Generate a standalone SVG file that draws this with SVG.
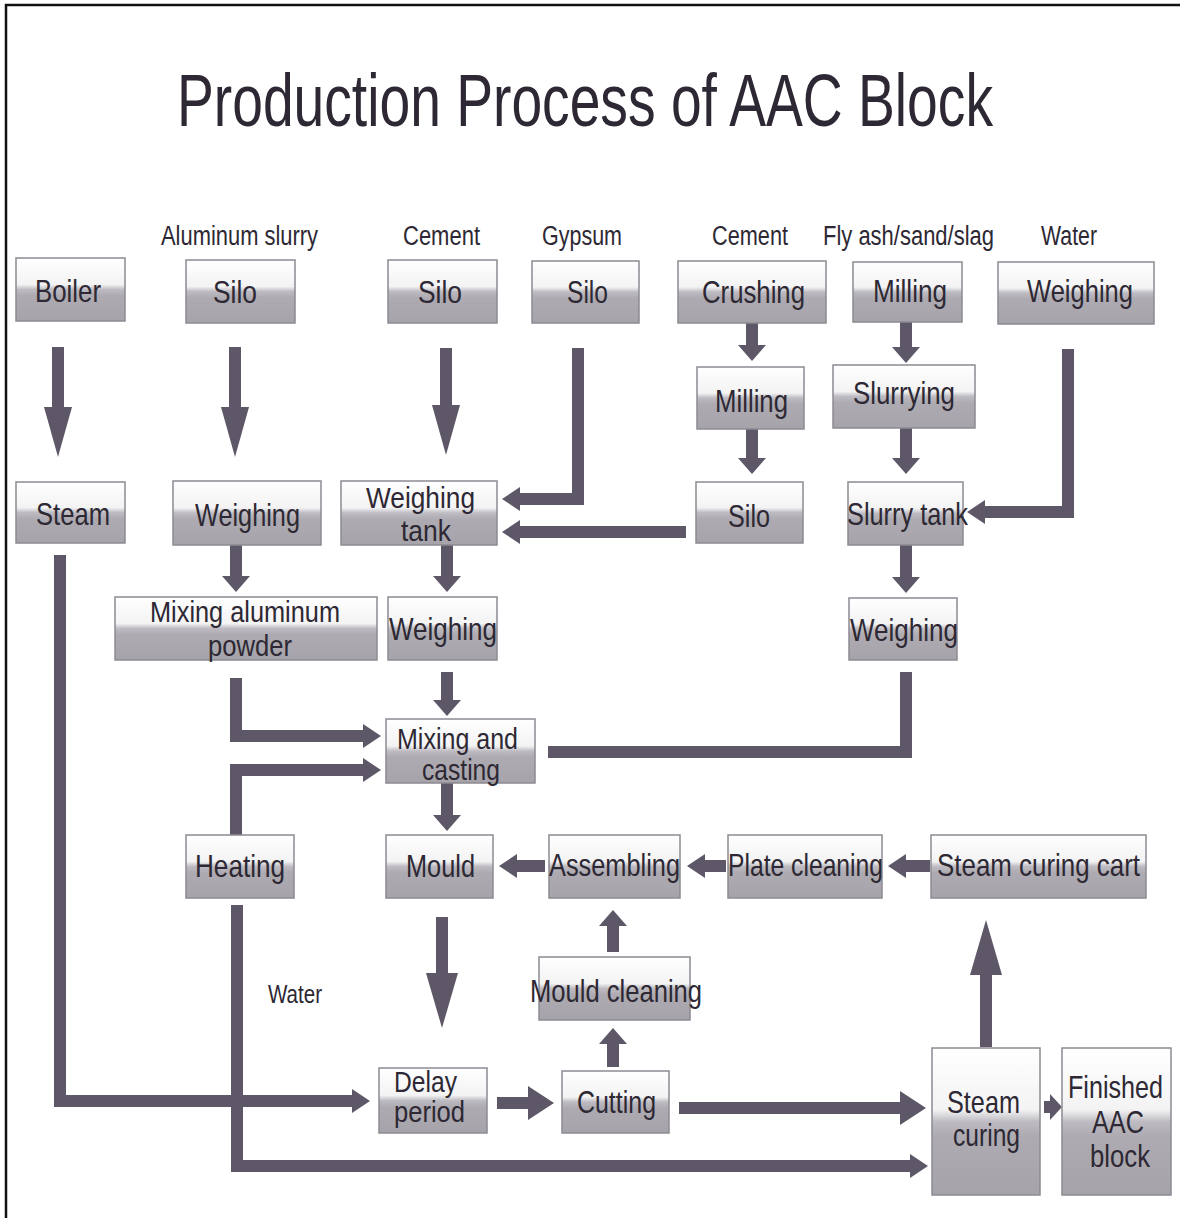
<svg xmlns="http://www.w3.org/2000/svg" width="1180" height="1218" viewBox="0 0 1180 1218">
<defs>
<linearGradient id="g" x1="0" y1="0" x2="0" y2="1">
<stop offset="0" stop-color="#ffffff"/>
<stop offset="0.42" stop-color="#f3f3f4"/>
<stop offset="0.5" stop-color="#bebcc2"/>
<stop offset="0.6" stop-color="#adabb1"/>
<stop offset="1" stop-color="#a6a4aa"/>
</linearGradient>
<marker id="hv" markerUnits="userSpaceOnUse" markerWidth="50" markerHeight="28" refX="0" refY="14" orient="auto"><path d="M0,0 L50,14 L0,28 z" fill="#5d5767"/></marker>
<marker id="hb" markerUnits="userSpaceOnUse" markerWidth="55" markerHeight="32" refX="0" refY="16" orient="auto"><path d="M0,0 L55,16 L0,32 z" fill="#5d5767"/></marker>
<marker id="hs" markerUnits="userSpaceOnUse" markerWidth="16" markerHeight="28" refX="0" refY="14" orient="auto"><path d="M0,0 L16,14 L0,28 z" fill="#5d5767"/></marker>
<marker id="hh" markerUnits="userSpaceOnUse" markerWidth="18" markerHeight="24" refX="0" refY="12" orient="auto"><path d="M0,0 L18,12 L0,24 z" fill="#5d5767"/></marker>
<marker id="hw" markerUnits="userSpaceOnUse" markerWidth="26" markerHeight="34" refX="0" refY="17" orient="auto"><path d="M0,0 L26,17 L0,34 z" fill="#5d5767"/></marker>
<marker id="hx" markerUnits="userSpaceOnUse" markerWidth="12" markerHeight="26" refX="0" refY="13" orient="auto"><path d="M0,0 L12,13 L0,26 z" fill="#5d5767"/></marker>
</defs>
<style>
.box{fill:url(#g);stroke:#8d8b92;stroke-width:1.5}
.t{font-family:"Liberation Sans",Arial,sans-serif;fill:#2d2833}
.b{font-size:32px}
.b2{font-size:29px}
.lab{font-size:27px}
.c{fill:none;stroke:#5d5767;stroke-width:12;stroke-linejoin:miter}
</style>
<rect x="0" y="0" width="1180" height="1218" fill="#ffffff"/>
<path d="M6,1218 V5 H1180" fill="none" stroke="#111" stroke-width="2.5"/>
<text class="t" x="177" y="126" font-size="74" textLength="816" lengthAdjust="spacingAndGlyphs">Production Process of AAC Block</text>

<g id="labels">
<text class="t lab" x="161" y="245" textLength="157" lengthAdjust="spacingAndGlyphs">Aluminum slurry</text>
<text class="t lab" x="403" y="245" textLength="77" lengthAdjust="spacingAndGlyphs">Cement</text>
<text class="t lab" x="542" y="245" textLength="80" lengthAdjust="spacingAndGlyphs">Gypsum</text>
<text class="t lab" x="712" y="245" textLength="76" lengthAdjust="spacingAndGlyphs">Cement</text>
<text class="t lab" x="823" y="245" textLength="171" lengthAdjust="spacingAndGlyphs">Fly ash/sand/slag</text>
<text class="t lab" x="1041" y="245" textLength="56" lengthAdjust="spacingAndGlyphs">Water</text>
<text class="t" x="268" y="1003" font-size="26" textLength="54" lengthAdjust="spacingAndGlyphs">Water</text>
</g>

<g id="connectors">
<path class="c" d="M58,347 V407" marker-end="url(#hv)"/>
<path class="c" d="M235,347 V407" marker-end="url(#hv)"/>
<path class="c" d="M446,348 V405" marker-end="url(#hv)"/>
<path class="c" d="M578,348 V499 H520" marker-end="url(#hh)"/>
<path class="c" d="M686,532 H520" marker-end="url(#hh)"/>
<path class="c" d="M752,323 V345" marker-end="url(#hs)"/>
<path class="c" d="M752,429 V458" marker-end="url(#hs)"/>
<path class="c" d="M906,322 V347" marker-end="url(#hs)"/>
<path class="c" d="M906,428 V458" marker-end="url(#hs)"/>
<path class="c" d="M1068,349 V512 H985" marker-end="url(#hh)"/>
<path class="c" d="M906,545 V577" marker-end="url(#hs)"/>
<path class="c" d="M60,555 V1101 H352" marker-end="url(#hh)"/>
<path class="c" d="M236,545 V576" marker-end="url(#hs)"/>
<path class="c" d="M447,545 V576" marker-end="url(#hs)"/>
<path class="c" d="M236,678 V736 H363" marker-end="url(#hh)"/>
<path class="c" d="M236,835 V770 H363" marker-end="url(#hh)"/>
<path class="c" d="M906,672 V752 H548"/>
<path class="c" d="M447,672 V700" marker-end="url(#hs)"/>
<path class="c" d="M447,783 V815" marker-end="url(#hs)"/>
<path class="c" d="M545,866 H517" marker-end="url(#hh)"/>
<path class="c" d="M726,866 H705" marker-end="url(#hh)"/>
<path class="c" d="M930,866 H906" marker-end="url(#hh)"/>
<path class="c" d="M442,917 V973" marker-end="url(#hb)"/>
<path class="c" d="M613,952 V926" marker-end="url(#hs)"/>
<path class="c" d="M613,1067 V1044" marker-end="url(#hs)"/>
<path class="c" d="M497,1103 H528" marker-end="url(#hw)"/>
<path class="c" d="M679,1108 H900" stroke-width="15" marker-end="url(#hw)"/>
<path class="c" d="M237,905 V1166 H910" marker-end="url(#hh)"/>
<path class="c" d="M986,1047 V975" marker-end="url(#hb)"/>
<path class="c" d="M1044,1107 H1050" marker-end="url(#hx)"/>
</g>

<g id="boiler"><rect class="box" x="16" y="258" width="109" height="63"/><text class="t b" x="35" y="302" textLength="66" lengthAdjust="spacingAndGlyphs">Boiler</text></g>
<g id="silo-al"><rect class="box" x="186" y="260" width="109" height="63"/><text class="t b" x="213" y="303" textLength="44" lengthAdjust="spacingAndGlyphs">Silo</text></g>
<g id="silo-cement"><rect class="box" x="388" y="260" width="109" height="63"/><text class="t b" x="418" y="303" textLength="44" lengthAdjust="spacingAndGlyphs">Silo</text></g>
<g id="silo-gypsum"><rect class="box" x="532" y="261" width="107" height="62"/><text class="t b" x="567" y="303" textLength="41" lengthAdjust="spacingAndGlyphs">Silo</text></g>
<g id="crushing"><rect class="box" x="678" y="261" width="148" height="62"/><text class="t b" x="702" y="303" textLength="103" lengthAdjust="spacingAndGlyphs">Crushing</text></g>
<g id="milling-fly"><rect class="box" x="853" y="262" width="109" height="60"/><text class="t b" x="873" y="302" textLength="74" lengthAdjust="spacingAndGlyphs">Milling</text></g>
<g id="weighing-water"><rect class="box" x="998" y="262" width="156" height="62"/><text class="t b" x="1027" y="302" textLength="106" lengthAdjust="spacingAndGlyphs">Weighing</text></g>

<g id="milling-cement"><rect class="box" x="697" y="367" width="107" height="62"/><text class="t b" x="715" y="412" textLength="73" lengthAdjust="spacingAndGlyphs">Milling</text></g>
<g id="slurrying"><rect class="box" x="833" y="365" width="142" height="63"/><text class="t b" x="853" y="404" textLength="102" lengthAdjust="spacingAndGlyphs">Slurrying</text></g>

<g id="steam"><rect class="box" x="16" y="482" width="109" height="61"/><text class="t b" x="36" y="525" textLength="74" lengthAdjust="spacingAndGlyphs">Steam</text></g>
<g id="weighing-al"><rect class="box" x="173" y="481" width="148" height="64"/><text class="t b" x="195" y="526" textLength="105" lengthAdjust="spacingAndGlyphs">Weighing</text></g>
<g id="weighing-tank"><rect class="box" x="341" y="481" width="156" height="64"/><text class="t b2" x="366" y="508" textLength="109" lengthAdjust="spacingAndGlyphs">Weighing</text><text class="t b2" x="401" y="541" textLength="50" lengthAdjust="spacingAndGlyphs">tank</text></g>
<g id="silo-row3"><rect class="box" x="696" y="482" width="107" height="61"/><text class="t b" x="728" y="527" textLength="42" lengthAdjust="spacingAndGlyphs">Silo</text></g>
<g id="slurry-tank"><rect class="box" x="848" y="482" width="115" height="63"/><text class="t b" x="847" y="525" textLength="121" lengthAdjust="spacingAndGlyphs">Slurry tank</text></g>

<g id="mixing-al"><rect class="box" x="115" y="597" width="262" height="63"/><text class="t b2" x="150" y="622" textLength="190" lengthAdjust="spacingAndGlyphs">Mixing aluminum</text><text class="t b2" x="208" y="656" textLength="84" lengthAdjust="spacingAndGlyphs">powder</text></g>
<g id="weighing-center"><rect class="box" x="388" y="597" width="109" height="63"/><text class="t b" x="389" y="640" textLength="108" lengthAdjust="spacingAndGlyphs">Weighing</text></g>
<g id="weighing-right"><rect class="box" x="849" y="598" width="108" height="62"/><text class="t b" x="850" y="641" textLength="108" lengthAdjust="spacingAndGlyphs">Weighing</text></g>

<g id="mixing-casting"><rect class="box" x="386" y="719" width="149" height="64"/><text class="t b2" x="397" y="749" textLength="121" lengthAdjust="spacingAndGlyphs">Mixing and</text><text class="t b2" x="422" y="780" textLength="78" lengthAdjust="spacingAndGlyphs">casting</text></g>

<g id="heating"><rect class="box" x="186" y="835" width="108" height="63"/><text class="t b" x="195" y="877" textLength="90" lengthAdjust="spacingAndGlyphs">Heating</text></g>
<g id="mould"><rect class="box" x="386" y="835" width="107" height="63"/><text class="t b" x="406" y="877" textLength="69" lengthAdjust="spacingAndGlyphs">Mould</text></g>
<g id="assembling"><rect class="box" x="549" y="835" width="131" height="63"/><text class="t b" x="549" y="876" textLength="131" lengthAdjust="spacingAndGlyphs">Assembling</text></g>
<g id="plate-cleaning"><rect class="box" x="728" y="835" width="154" height="63"/><text class="t b" x="728" y="876" textLength="155" lengthAdjust="spacingAndGlyphs">Plate cleaning</text></g>
<g id="steam-curing-cart"><rect class="box" x="931" y="835" width="215" height="63"/><text class="t b" x="937" y="876" textLength="203" lengthAdjust="spacingAndGlyphs">Steam curing cart</text></g>

<g id="mould-cleaning"><rect class="box" x="539" y="957" width="151" height="63"/><text class="t b" x="530" y="1002" textLength="172" lengthAdjust="spacingAndGlyphs">Mould cleaning</text></g>

<g id="delay-period"><rect class="box" x="379" y="1068" width="108" height="65"/><text class="t b2" x="394" y="1092" textLength="63" lengthAdjust="spacingAndGlyphs">Delay</text><text class="t b2" x="394" y="1122" textLength="71" lengthAdjust="spacingAndGlyphs">period</text></g>
<g id="cutting"><rect class="box" x="562" y="1071" width="107" height="62"/><text class="t b" x="577" y="1113" textLength="79" lengthAdjust="spacingAndGlyphs">Cutting</text></g>
<g id="steam-curing"><rect class="box" x="932" y="1048" width="108" height="147"/><text class="t b" x="947" y="1113" textLength="73" lengthAdjust="spacingAndGlyphs">Steam</text><text class="t b" x="953" y="1146" textLength="67" lengthAdjust="spacingAndGlyphs">curing</text></g>
<g id="finished"><rect class="box" x="1062" y="1048" width="109" height="147"/><text class="t b" x="1068" y="1098" textLength="95" lengthAdjust="spacingAndGlyphs">Finished</text><text class="t b" x="1092" y="1133" textLength="52" lengthAdjust="spacingAndGlyphs">AAC</text><text class="t b" x="1090" y="1167" textLength="60" lengthAdjust="spacingAndGlyphs">block</text></g>
</svg>
